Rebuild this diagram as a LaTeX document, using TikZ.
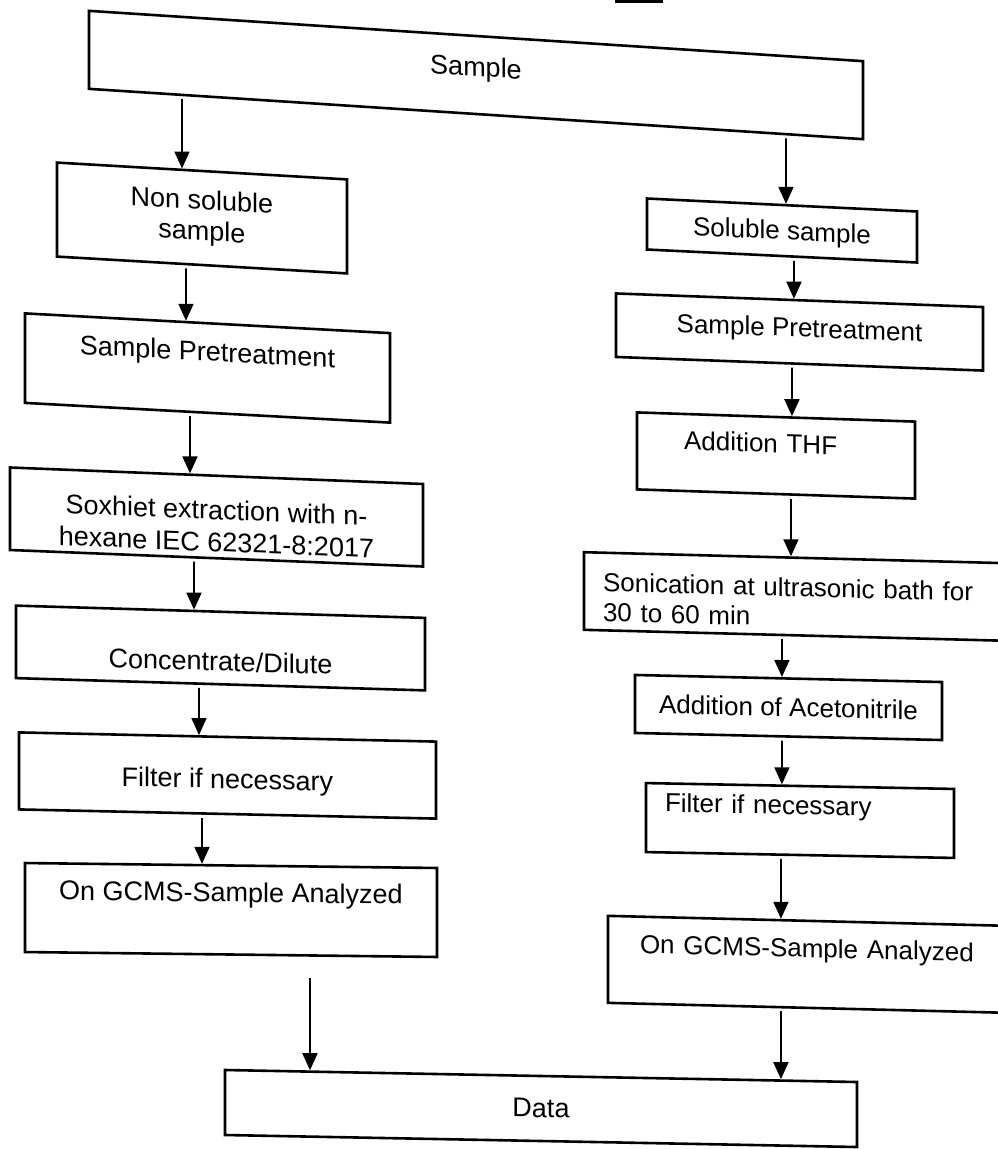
\documentclass[tikz,border=0pt]{standalone}
\usepackage{fontspec}
\setmainfont{Liberation Sans}
\usetikzlibrary{arrows.meta}

% arrow straight down at x=#3 from the bottom edge of #1 to the top edge of #2
\newcommand\flowarrow[3]{%
  \draw[flow] (intersection of #1.south west--#1.south east and #3,0--#3,1)
    -- (intersection of #2.north west--#2.north east and #3,0--#3,1);}

\begin{document}
\begin{tikzpicture}[x=1pt,y=-1pt,
    box/.style={draw, line width=2.6pt, inner sep=0pt, transform shape, align=center,
                font=\fontsize{27}{31}\selectfont},
    rbox/.style={box, font=\fontsize{26}{29}\selectfont},
    lift/.style={text height=20pt, text depth=#1},
    lift/.default=2pt,
    sink/.style={text height=#1, text depth=2pt},
    lbox/.style={align=left, inner xsep=#1},
    flow/.style={line width=1.8pt, shorten <=3pt, -{Triangle[width=15pt,length=17pt]}}]
                \useasboundingbox (0,0) rectangle (998,1149);
                \fill (615,0) rectangle (663,3);

                \node[box, yslant=-0.065, minimum width=774, minimum height=78, lift=18pt] (sample) at (476,75) {Sample};

                % left column
                \node[box, yslant=-0.058, minimum width=290, minimum height=94] (nonsol) at (202,218) {Non soluble\\sample};
                \node[box, yslant=-0.054, minimum width=365, minimum height=89.5, lift=34pt] (pretL) at (207.5,368) {Sample Pretreatment};
                \node[box, font=\fontsize{27}{32}\selectfont, yslant=-0.04, minimum width=413, minimum height=82.5, sink=70pt, text depth=1pt] (soxh) at (216.5,517) {Soxhiet extraction with n-\\hexane IEC 62321-8:2017};
                \node[box, yslant=-0.03, minimum width=409, minimum height=72.5, sink=48pt] (conc) at (220.5,648) {Concentrate/Dilute};
                \node[box, yslant=-0.022, minimum width=417, minimum height=77, sink=28pt] (filtL) at (227.5,775.5) {Filter if necessary};
                \node[box, yslant=-0.012, minimum width=412, minimum height=89, lift=36pt] (gcmsL) at (231,910) {On GCMS-Sample Analyzed};

                % right column
                \node[rbox, yslant=-0.048, minimum width=270, minimum height=51, lift] (sol) at (782,230.5) {Soluble sample};
                \node[rbox, yslant=-0.037, minimum width=367, minimum height=63.5, lift=10pt] (pretR) at (799.5,332) {Sample Pretreatment};
                \node[rbox, lbox=47, text width=184, yslant=-0.033, minimum width=278, minimum height=77, lift=26pt] (thf) at (776,455.5) {Addition THF};
                \node[rbox, font=\fontsize{26}{30}\selectfont, lbox=19, text width=392, yslant=-0.026, minimum width=430, minimum height=77.6, lift=20pt] (sonic) at (799,596.6) {Sonication at ultrasonic bath for\\30 to 60 min};
                \node[rbox, yslant=-0.023, minimum width=307, minimum height=58, lift] (acn) at (788.5,707.5) {Addition of Acetonitrile};
                \node[rbox, lbox=19, text width=270, yslant=-0.019, minimum width=308, minimum height=69, lift=32pt] (filtR) at (800,820.5) {Filter if necessary};
                \node[rbox, lbox=32, text width=348, yslant=-0.025, minimum width=412, minimum height=87, lift=34pt] (gcmsR) at (814,964.5) {On GCMS-Sample Analyzed};

                \node[box, yslant=-0.019, minimum width=632, minimum height=65, lift] (data) at (541,1108.5) {Data};

                \coordinate (gcmsLout) at (310,975);

                \flowarrow{sample}{nonsol}{182}
                \flowarrow{nonsol}{pretL}{186}
                \flowarrow{pretL}{soxh}{190}
                \flowarrow{soxh}{conc}{194}
                \flowarrow{conc}{filtL}{199}
                \flowarrow{filtL}{gcmsL}{202}

                \flowarrow{sample}{sol}{786}
                \flowarrow{sol}{pretR}{794}
                \flowarrow{pretR}{thf}{792}
                \flowarrow{thf}{sonic}{791}
                \flowarrow{sonic}{acn}{782}
                \flowarrow{acn}{filtR}{782}
                \flowarrow{filtR}{gcmsR}{781}
                \flowarrow{gcmsR}{data}{781}

                \draw[flow] (gcmsLout) -- (intersection of data.north west--data.north east and 310,0--310,1);
\end{tikzpicture}
\end{document}
